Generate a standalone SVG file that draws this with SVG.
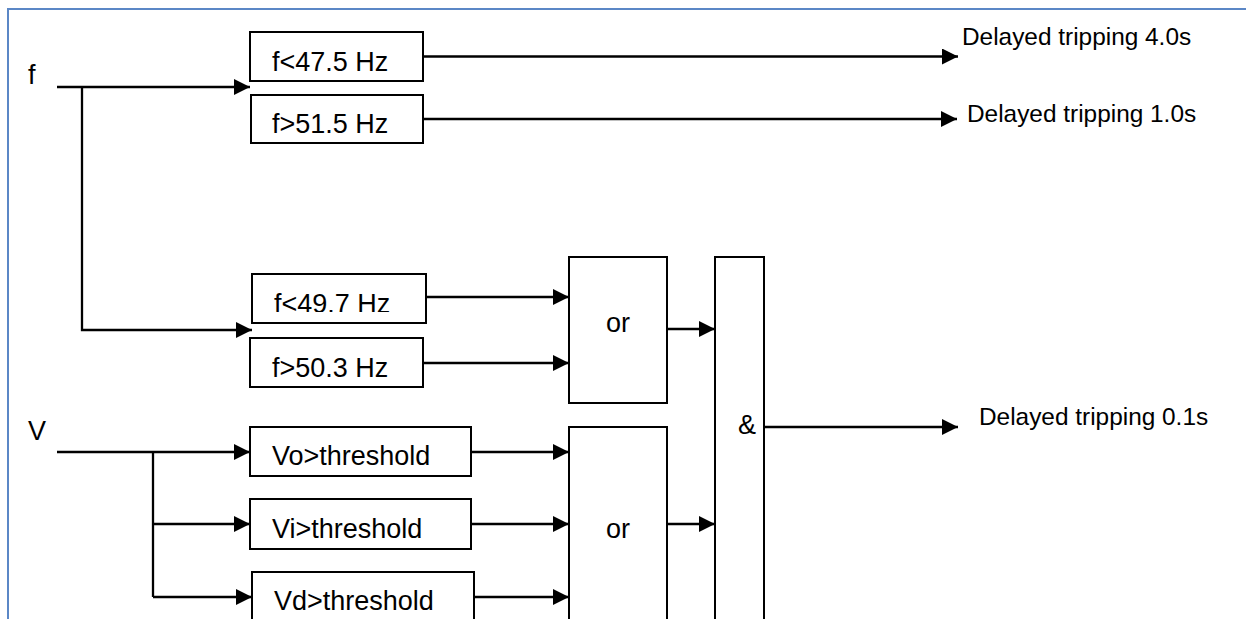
<svg xmlns="http://www.w3.org/2000/svg" width="1246" height="619" viewBox="0 0 1246 619">
  <defs>
    <marker id="arrow" viewBox="0 0 16 16" refX="16" refY="8" markerWidth="16" markerHeight="16" markerUnits="userSpaceOnUse" orient="auto">
      <path d="M0,0 L16,8 L0,16 Z" fill="#000"/>
    </marker>
    <clipPath id="clip-f497">
      <rect x="252" y="274" width="174" height="38"/>
    </clipPath>
    <style>
      .box { fill: #fff; stroke: #000; stroke-width: 2; }
      .wire { fill: none; stroke: #000; stroke-width: 2.3; }
      .arr { marker-end: url(#arrow); }
      .lbl { font-family: "Liberation Sans", Arial, sans-serif; font-size: 27px; fill: #000; }
      .out { font-family: "Liberation Sans", Arial, sans-serif; font-size: 24.4px; fill: #000; }
    </style>
  </defs>
  <rect width="1246" height="619" fill="#fff"/>
  <!-- page frame -->
  <path d="M8,619 V9 H1246" fill="none" stroke="#5b87c6" stroke-width="2"/>

  <!-- input labels -->
  <g id="input-f"><text class="lbl" x="28" y="84">f</text></g>
  <g id="input-v"><text class="lbl" x="28" y="440">V</text></g>

  <!-- frequency comparators -->
  <g id="f-lt-47-5">
    <rect class="box" x="250" y="32" width="173" height="49"/>
    <text class="lbl" x="272" y="71">f&lt;47.5 Hz</text>
  </g>
  <g id="f-gt-51-5">
    <rect class="box" x="251" y="95" width="172" height="48"/>
    <text class="lbl" x="272" y="133">f&gt;51.5 Hz</text>
  </g>
  <g id="f-lt-49-7">
    <rect class="box" x="252" y="274" width="174" height="49"/>
    <text class="lbl" x="274" y="313" clip-path="url(#clip-f497)">f&lt;49.7 Hz</text>
  </g>
  <g id="f-gt-50-3">
    <rect class="box" x="250" y="338" width="173" height="49"/>
    <text class="lbl" x="272" y="377">f&gt;50.3 Hz</text>
  </g>

  <!-- voltage comparators -->
  <g id="vo-threshold">
    <rect class="box" x="250" y="427" width="221" height="49"/>
    <text class="lbl" x="272" y="465">Vo&gt;threshold</text>
  </g>
  <g id="vi-threshold">
    <rect class="box" x="250" y="499" width="221" height="50"/>
    <text class="lbl" x="272" y="538">Vi&gt;threshold</text>
  </g>
  <g id="vd-threshold">
    <rect class="box" x="252" y="572" width="222" height="60"/>
    <text class="lbl" x="274" y="610">Vd&gt;threshold</text>
  </g>

  <!-- logic gates -->
  <g id="or-freq">
    <rect class="box" x="569" y="257" width="98" height="146"/>
    <text class="lbl" x="618" y="332" text-anchor="middle">or</text>
  </g>
  <g id="or-volt">
    <rect class="box" x="569" y="427" width="98" height="205"/>
    <text class="lbl" x="618" y="538" text-anchor="middle">or</text>
  </g>
  <g id="and-gate">
    <rect class="box" x="715" y="257" width="49" height="375"/>
    <text class="lbl" x="747" y="434" text-anchor="middle">&amp;</text>
  </g>

  <!-- output labels -->
  <g id="out-4-0"><text class="out" x="962" y="45">Delayed tripping 4.0s</text></g>
  <g id="out-1-0"><text class="out" x="967" y="122">Delayed tripping 1.0s</text></g>
  <g id="out-0-1"><text class="out" x="979" y="425">Delayed tripping 0.1s</text></g>

  <!-- connectors -->
  <g id="connectors">
    <!-- f feed -->
    <path class="wire arr" d="M57,87 H250"/>
    <path class="wire arr" d="M82,87 V330 H252"/>
    <!-- V feed -->
    <path class="wire arr" d="M57,452 H250"/>
    <path class="wire" d="M153,452 V597"/>
    <path class="wire arr" d="M153,524 H250"/>
    <path class="wire arr" d="M153,597 H252"/>
    <!-- direct trips -->
    <path class="wire arr" d="M423,56.5 H958"/>
    <path class="wire arr" d="M423,119 H957"/>
    <!-- into or gates -->
    <path class="wire arr" d="M426,297 H569"/>
    <path class="wire arr" d="M423,363 H569"/>
    <path class="wire arr" d="M471,452 H569"/>
    <path class="wire arr" d="M471,524 H569"/>
    <path class="wire arr" d="M474,597 H569"/>
    <!-- into and gate -->
    <path class="wire arr" d="M667,329 H715"/>
    <path class="wire arr" d="M667,524 H715"/>
    <!-- combined trip -->
    <path class="wire arr" d="M764,427 H958"/>
  </g>
</svg>
